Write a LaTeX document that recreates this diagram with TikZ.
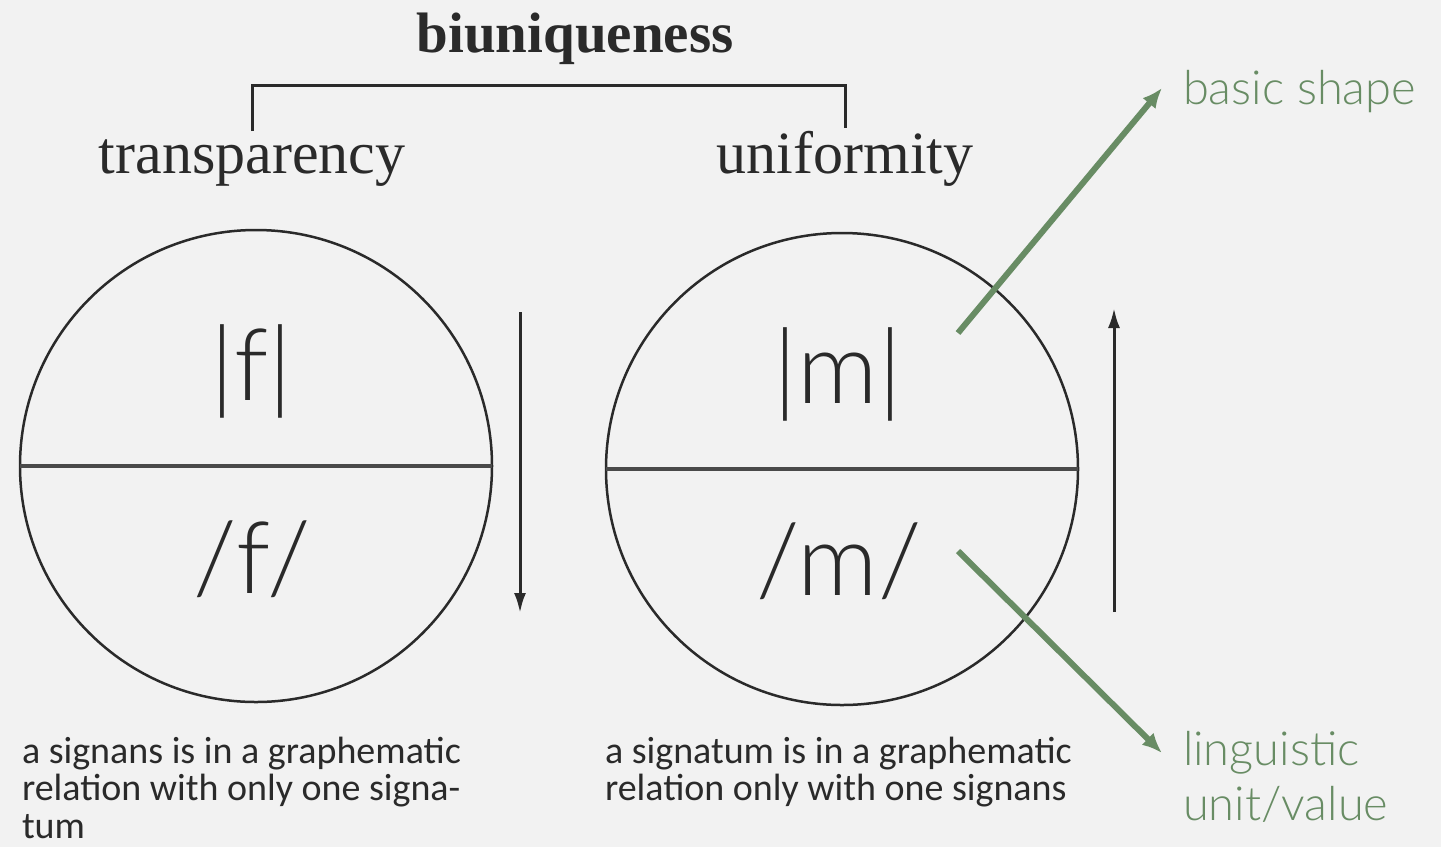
\documentclass[tikz,border=0pt]{standalone}
\usepackage{fontspec}
\usepackage{tikz}
\usetikzlibrary{arrows.meta,positioning,calc}
\newfontfamily\latofont{Lato Light}
\newfontfamily\carlitofont{Carlito}
\newfontfamily\bookfont{Liberation Serif}
\definecolor{PaperGrey}{HTML}{F2F2F2}
\definecolor{InkDark}{HTML}{2A2A2A}
\definecolor{RuleGrey}{HTML}{4A4A4A}
\definecolor{Sage}{HTML}{688C64}

\begin{document}
\begin{tikzpicture}[
    x=1pt,y=-1pt,
    every node/.style={inner sep=0pt,outer sep=0pt,text=InkDark},
    title/.style={font=\bookfont\fontsize{57}{57}\selectfont\bfseries,anchor=base},
    heading/.style={font=\bookfont\fontsize{60}{60}\selectfont,anchor=base},
    disc/.style={circle,draw=InkDark,line width=2.5pt,minimum size=472pt},
    sign/.style={font=\latofont\fontsize{100}{100}\selectfont,anchor=base},
    caption/.style={font=\carlitofont\fontsize{38}{37.5}\selectfont,align=left,anchor=base west},
    note/.style={font=\latofont\fontsize{47}{55}\selectfont,text=Sage,align=left,anchor=base west},
    bracket/.style={InkDark,line width=3pt},
    divider/.style={RuleGrey,line width=4pt},
    flow/.style={-{Latex[length=20pt,width=12pt]},InkDark,line width=3pt},
    pointer/.style={-{Latex[length=20pt,width=17pt]},Sage,line width=6pt}
  ]
    \fill[PaperGrey] (0,0) rectangle (1441,847);
    \useasboundingbox (0,0) rectangle (1441,847);

    \node[title] (title) at (575,52) {biuniqueness};
    \node[heading] (trans) at (252,173) {transparency};
    \node[heading] (unif) at (845,173) {uniformity};
    \draw[bracket] ([yshift=8pt]trans.north) |- ([yshift=-21pt]title.south) -| ([yshift=3pt]unif.north);

    \node[disc] (fdisc) at (256,466) {};
    \node[disc] (mdisc) at (842,469) {};
    \draw[divider] (fdisc.west) -- (fdisc.east);
    \draw[divider] (mdisc.west) -- (mdisc.east);

    \node[sign] (fshape) at (251,400) {|f|};
    \node[sign] (fvalue) at (252,593) {/f/};
    \node[sign] (mshape) at (838,403) {|m|};
    \node[sign] (mvalue) at (839,595) {/m/};

    \coordinate (fdtop) at (520,312);
    \coordinate (fdbot) at (520,613);
    \coordinate (mutop) at (1114,308);
    \coordinate (mubot) at (1114,612);
    \draw[flow] (fdtop) -- (fdbot);
    \draw[flow] (mubot) -- (mutop);

    % base anchor sits on the last line
    \node[caption] (fcap) at (22,838) {a signans is in a graphematic\\relation with only one signa-\\tum};
    \node[caption] (mcap) at (605,800.5) {a signatum is in a graphematic\\relation only with one signans};

    \node[note] (shape) at (1183,104) {basic shape};
    \node[note] (unit) at (1183,820) {linguistic\\unit/value};
    \coordinate (shapefrom) at (958,333);
    \coordinate (unitfrom) at (958,551);
    \draw[pointer] (shapefrom) -- ([xshift=-21pt,yshift=16pt]shape.base west);
    \draw[pointer] (unitfrom) -- ([xshift=-21pt,yshift=67pt]unit.base west);
  \end{tikzpicture}
\end{document}
